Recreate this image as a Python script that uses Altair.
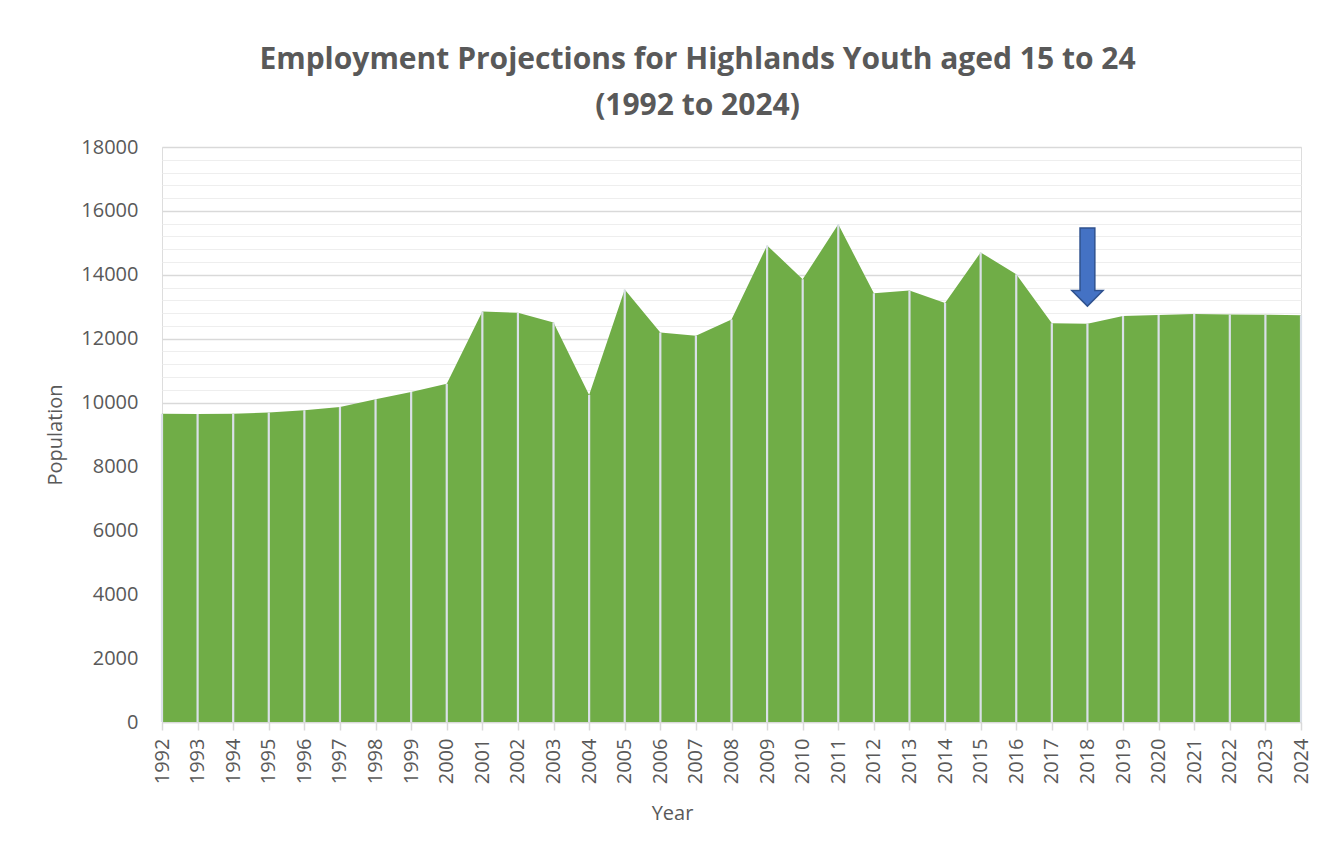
import altair as alt
import pandas as pd

years = list(range(1992, 2025))
population = [9650, 9640, 9650, 9690, 9760, 9860, 10100, 10330, 10590,
              12850, 12810, 12510, 10240, 13540, 12190, 12090, 12600,
              14920, 13860, 15580, 13420, 13510, 13120, 14700, 14020,
              12480, 12470, 12710, 12740, 12770, 12760, 12750, 12730]

arrow_year = [2018]
arrow_value = [14240]

df = pd.DataFrame({"year": years, "value": population})
arrow_df = pd.DataFrame({"year": arrow_year, "value": arrow_value})

FONT = "Open Sans"
TXT = "#595959"

xscale = alt.Scale(domain=[1992, 2024], nice=False, zero=False)
yscale = alt.Scale(domain=[0, 18000], nice=False)

xaxis = alt.Axis(values=years, format="d", labelAngle=270, labelFontSize=20,
                 labelColor=TXT, labelFont=FONT, labelPadding=8,
                 tickSize=8, tickColor="#D9D9D9", tickWidth=1.5,
                 domainColor="#D9D9D9", domainWidth=1.5, grid=False,
                 title="Year", titleFont=FONT, titleFontSize=20,
                 titleFontWeight="normal", titleColor=TXT,
                 titleX=510, titleY=91, titleBaseline="middle", titleAlign="center",
                 labelOverlap=False)

major_axis = alt.Axis(orient="left", values=list(range(0, 18001, 2000)), format="d",
                      labelFontSize=20, labelColor=TXT, labelFont=FONT,
                      labelPadding=24, tickSize=0, domain=False,
                      grid=True, gridColor="#D9D9D9", gridWidth=1.3,
                      title="Population", titleFont=FONT, titleFontSize=20,
                      titleFontWeight="normal", titleColor=TXT,
                      titleX=-107, titleY=287.5, titleAngle=270,
                      titleBaseline="middle", titleAlign="center")

minor_vals = [v for v in range(400, 18000, 400) if v % 2000]
minor_axis = alt.Axis(orient="left", values=minor_vals, labels=False, ticks=False,
                      domain=False, grid=True, gridColor="#EEEEEE", gridWidth=1,
                      title=None)

area = alt.Chart(df).mark_area(color="#70AD47", opacity=1).encode(
    x=alt.X("year:Q", scale=xscale, axis=xaxis),
    y=alt.Y("value:Q", scale=yscale, axis=major_axis),
)

drops = alt.Chart(df).mark_rule(color="#DAE0E8", strokeWidth=2.2).encode(
    x=alt.X("year:Q", scale=xscale, axis=xaxis),
    y=alt.Y("value:Q", scale=yscale, axis=minor_axis),
    y2=alt.datum(0),
)

arrow_path = "M -0.19 -1 L 0.19 -1 L 0.19 0.6 L 0.4 0.6 L 0 1 L -0.4 0.6 L -0.19 0.6 Z"
arrow = alt.Chart(arrow_df).mark_point(
    shape=arrow_path, size=6084, filled=True, fill="#4472C4",
    stroke="#2F528F", strokeWidth=1.5, opacity=1,
).encode(
    x=alt.X("year:Q", scale=xscale, axis=xaxis),
    y=alt.Y("value:Q", scale=yscale, axis=None),
)

chart = alt.layer(area, drops, arrow).resolve_axis(y="independent").properties(
    width=1139,
    height=575,
    autosize=alt.AutoSizeParams(type="none"),
    padding={"left": 154, "top": 139, "right": 16, "bottom": 120},
    title=alt.TitleParams(
        ["Employment Projections for Highlands Youth aged 15 to 24", "(1992 to 2024)"],
        font=FONT, fontSize=30, fontWeight="bold", color=TXT,
        anchor="middle", dx=-34, offset=16, lineHeight=46,
    ),
).configure_view(stroke=None).configure(font=FONT)

chart.save("out.html", embed_options={"renderer": "svg", "actions": False})
